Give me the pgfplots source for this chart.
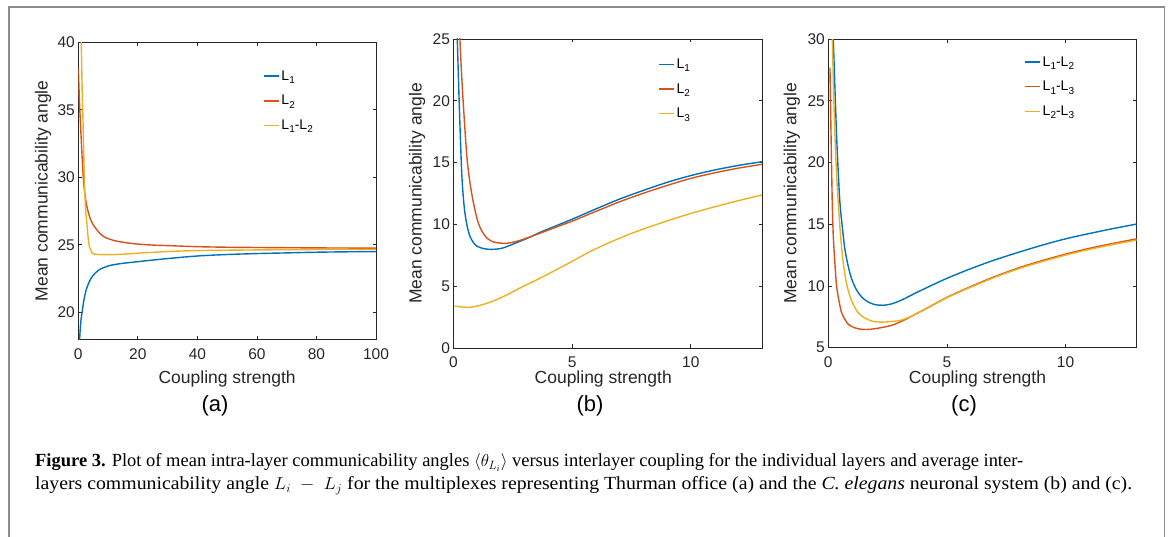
\documentclass[border=0pt]{standalone}
\usepackage{fontspec}
\setmainfont{Liberation Sans}
\newfontfamily\capfont{Liberation Serif}
\usepackage{graphicx}
\usepackage{pgfplots}
\pgfplotsset{compat=1.18}
\definecolor{mblue}{rgb}{0,0.447,0.741}
\definecolor{mred}{rgb}{0.85,0.325,0.098}
\definecolor{myel}{rgb}{0.929,0.694,0.125}
\definecolor{axgray}{rgb}{0.15,0.15,0.15}
\newcommand\sub[1]{\raisebox{-0.45ex}{\fontsize{10}{10}\selectfont #1}}
\pgfplotsset{
  mstyle/.style={
    scale only axis, anchor=south west,
    axis line style={axgray, line width=0.8pt},
    every tick/.style={axgray, line width=0.8pt},
    major tick length=3.5pt,
    tick align=inside,
    /pgf/number format/assume math mode=true,
    tick label style={font=\fontsize{15.5}{15.5}\selectfont, text=axgray},
    xticklabel style={yshift=-5.5pt},
    label style={font=\fontsize{17.5}{17.5}\selectfont, text=axgray},
    ylabel style={at={(axis description cs:-0.118,0.5)}, rotate=0, anchor=center},
    ylabel={Mean communicability angle},
    xlabel={Coupling strength},
    legend style={draw=none, fill=none, font=\fontsize{14}{14}\selectfont, anchor=north west, row sep=9.5pt, inner sep=0pt},
    legend cell align=left,
    legend image code/.code={\draw[#1] (0pt,0pt) -- (15pt,0pt);},
    every axis plot/.append style={line width=1.4pt, smooth},
    scaled ticks=false,
  }
}
\begin{document}
\begin{tikzpicture}[x=1pt,y=1pt]
\path[use as bounding box] (0,0) rectangle (1171,537);
\draw[black!45, line width=1.5pt] (9,0) -- (9,530) -- (1164.5,530) -- (1164.5,0);
% (a)
\begin{axis}[mstyle, at={(78.3pt,197.7pt)}, width=297.7pt, height=297pt,
  xmin=0, xmax=100, ymin=18, ymax=40,
  xtick={0,20,...,100}, ytick={20,25,...,40},
  xlabel style={at={(axis description cs:0.5,-0.1505)}, anchor=base},
  legend style={at={(axis description cs:0.620,0.912)}}]
\addplot[mblue] coordinates {(0.35,17.3) (0.45,18.0) (0.7,18.9) (1.0,19.6) (1.35,20.1) (1.8,20.8) (2.5,21.55) (3.2,22.0) (4.2,22.5) (5.5,22.85) (7.0,23.15) (9,23.35) (10.9,23.48) (14,23.6) (20,23.75) (30,23.98) (40,24.17) (50,24.28) (60,24.35) (70,24.4) (80,24.45) (90,24.48) (100,24.5)};
\addlegendentry{L\sub{1}}
\addplot[mred] coordinates {(0.02,38.1) (0.34,35.9) (0.8,33.65) (1.24,31.7) (1.69,29.95) (2.25,28.7) (3.03,27.7) (4.15,26.86) (5.27,26.4) (6.95,25.92) (8.6,25.6) (10.5,25.42) (13.1,25.26) (18.7,25.08) (25,24.98) (30,24.94) (40,24.86) (50,24.82) (60,24.8) (80,24.77) (100,24.75)};
\addlegendentry{L\sub{2}}
\addplot[myel] coordinates {(0.9,41) (1.0,40) (1.3,36.5) (1.58,34.15) (1.85,31.5) (2.14,29.2) (2.5,27.5) (3.03,26.24) (3.6,25.0) (4.7,24.39) (6.0,24.3) (7.5,24.27) (10,24.27) (15,24.3) (20,24.38) (30,24.5) (40,24.57) (60,24.62) (80,24.65) (100,24.67)};
\addlegendentry{L\sub{1}-L\sub{2}}
\end{axis}
% (b)
\begin{axis}[mstyle, at={(453.5pt,189pt)}, width=308.5pt, height=309pt,
  xmin=0, xmax=13, ymin=0, ymax=25,
  xtick={0,5,10}, ytick={0,5,...,25},
  xlabel style={at={(axis description cs:0.5,-0.1165)}, anchor=base, xshift=-4.5pt},
  legend style={at={(axis description cs:0.663,0.943)}}]
\addplot[mblue] coordinates {(0.14,26.5) (0.16,25) (0.24,19.85) (0.34,14.45) (0.41,12.3) (0.48,10.95) (0.58,9.8) (0.69,9.06) (0.83,8.55) (0.98,8.25) (1.25,8.05) (1.54,7.98) (1.8,8.0) (2.1,8.1) (2.66,8.52) (3.2,8.95) (3.64,9.35) (4.3,9.87) (5,10.42) (6,11.25) (7,12.05) (8,12.75) (9,13.4) (10,13.95) (11,14.4) (12,14.77) (13,15.07)};
\addlegendentry{L\sub{1}}
\addplot[mred] coordinates {(0.25,26.5) (0.27,25) (0.34,22.2) (0.41,19.85) (0.55,15.8) (0.65,14.0) (0.76,12.57) (0.9,11.2) (1.04,10.14) (1.2,9.45) (1.39,8.93) (1.6,8.65) (1.81,8.52) (2.23,8.47) (2.6,8.6) (2.93,8.79) (3.64,9.28) (4.3,9.76) (5,10.26) (6,11.05) (7,11.83) (8,12.52) (9,13.15) (10,13.72) (11,14.17) (12,14.55) (13,14.86)};
\addlegendentry{L\sub{2}}
\addplot[myel] coordinates {(0.05,3.4) (0.3,3.33) (0.69,3.29) (1.0,3.4) (1.4,3.61) (1.8,3.9) (2.24,4.29) (2.9,4.95) (3.64,5.64) (4.3,6.3) (4.97,6.98) (5.7,7.75) (6.44,8.42) (7.15,9.0) (7.85,9.52) (9,10.28) (10,10.88) (11,11.42) (12,11.92) (13,12.38)};
\addlegendentry{L\sub{3}}
\end{axis}
% (c)
\begin{axis}[mstyle, at={(828.3pt,189.3pt)}, width=308.4pt, height=308.5pt,
  xmin=0, xmax=13, ymin=5, ymax=30,
  xtick={0,5,10}, ytick={5,10,...,30},
  xlabel style={at={(axis description cs:0.5,-0.1165)}, anchor=base, xshift=-5pt},
  legend style={at={(axis description cs:0.635,0.951)}}]
\addplot[mblue] coordinates {(0.19,31) (0.21,30) (0.28,26) (0.35,22.16) (0.42,19.2) (0.49,16.75) (0.6,14.6) (0.7,12.97) (0.84,11.6) (0.99,10.54) (1.2,9.65) (1.41,9.1) (1.6,8.8) (1.8,8.6) (2.0,8.48) (2.3,8.44) (2.67,8.55) (3.1,8.87) (3.66,9.41) (4.3,10.0) (5,10.62) (6,11.4) (7,12.1) (8,12.72) (9,13.3) (10,13.82) (11,14.25) (12,14.65) (13,15.02)};
\addlegendentry{L\sub{1}-L\sub{2}}
\addplot[mred] coordinates {(0.07,27.7) (0.1,24) (0.14,19.46) (0.17,16.5) (0.21,14.05) (0.28,11.8) (0.35,10.0) (0.45,8.8) (0.56,7.84) (0.7,7.3) (0.84,6.9) (1.1,6.62) (1.41,6.49) (1.7,6.48) (1.97,6.54) (2.3,6.65) (2.67,6.81) (3.1,7.15) (3.66,7.7) (4.3,8.35) (5,9.08) (6,9.95) (7,10.75) (8,11.45) (9,12.05) (10,12.58) (11,13.05) (12,13.45) (13,13.82)};
\addlegendentry{L\sub{1}-L\sub{3}}
\addplot[myel] coordinates {(0.15,31) (0.17,30) (0.22,26) (0.28,22.16) (0.35,19.0) (0.42,16.75) (0.52,14.0) (0.63,11.89) (0.76,10.3) (0.91,9.19) (1.08,8.4) (1.26,7.84) (1.5,7.45) (1.83,7.16) (2.1,7.08) (2.39,7.08) (2.7,7.13) (3.09,7.24) (3.66,7.7) (4.3,8.33) (5,9.05) (6,9.9) (7,10.69) (8,11.38) (9,11.97) (10,12.5) (11,12.96) (12,13.36) (13,13.72)};
\addlegendentry{L\sub{2}-L\sub{3}}
\end{axis}
\node[font=\fontsize{22}{22}\selectfont] at (215,131) {(a)};
\node[font=\fontsize{22}{22}\selectfont] at (590,131) {(b)};
\node[font=\fontsize{22}{22}\selectfont] at (964,131) {(c)};
\node[anchor=base west, inner sep=0pt, font=\capfont\fontsize{18.5}{18.5}\selectfont] at (35,70) {\resizebox{988pt}{\height}{\textbf{Figure 3.} Plot of mean intra-layer communicability angles $\langle\theta_{L_i}\rangle$ versus interlayer coupling for the individual layers and average inter-}};
\node[anchor=base west, inner sep=0pt, font=\capfont\fontsize{18.5}{18.5}\selectfont] at (35,47) {\resizebox{1097pt}{\height}{layers communicability angle $L_i\ -\ L_j$ for the multiplexes representing Thurman office (a) and the \textit{C. elegans} neuronal system (b) and (c).}};
\end{tikzpicture}
\end{document}
